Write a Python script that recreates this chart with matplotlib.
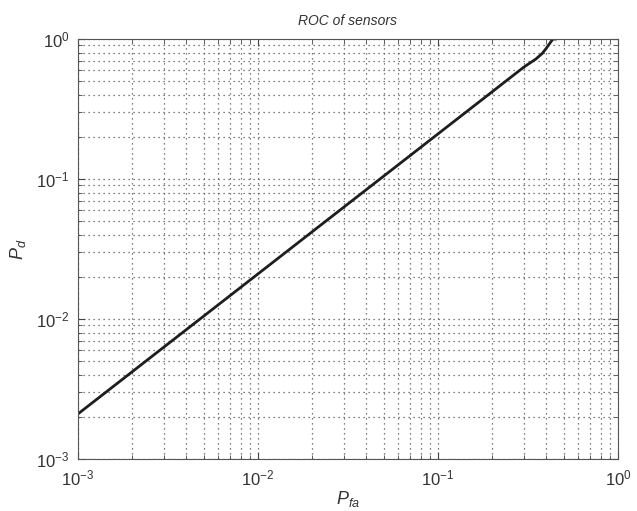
import matplotlib
matplotlib.use("Agg")
import matplotlib.pyplot as plt
import numpy as np

plt.rcParams['font.family'] = ['Liberation Sans', 'DejaVu Sans']
plt.rcParams['mathtext.fontset'] = 'custom'
plt.rcParams['mathtext.it'] = 'Liberation Sans:italic'
plt.rcParams['mathtext.rm'] = 'Liberation Sans'

# ROC curve
pfa = [1e-3, 1e-2, 0.1, 0.3, 0.35, 0.38, 0.40, 0.42, 0.435, 0.45]
pd = [2.1e-3, 2.1e-2, 0.21, 0.63, 0.72, 0.79, 0.86, 0.94, 1.0, 1.0]

fig = plt.figure(figsize=(6.37, 5.11), dpi=100)
ax = fig.add_axes([78/637, 1 - 459/511, 540/637, 420/511])

ax.loglog(pfa, pd, color='#1e1e1e', lw=2)
ax.set_xlim(1e-3, 1)
ax.set_ylim(1e-3, 1)

ax.grid(True, which='both', linestyle=(0, (1, 3)), color='#555555', lw=0.9)
ax.tick_params(which='both', direction='in', top=True, right=True,
               colors='#444444', labelcolor='#333333', labelsize=12)
ax.tick_params(which='major', length=5)
ax.tick_params(which='minor', length=3)
ax.tick_params(axis='x', which='major', pad=7)
ax.tick_params(axis='y', which='major', pad=6)
for s in ax.spines.values():
    s.set_color('#555555')

ax.set_title('ROC of sensors', fontstyle='italic', fontsize=10, color='#333333', pad=10)
ax.set_xlabel('$P_{fa}$', fontsize=13, color='#333333', labelpad=0)
ax.set_ylabel('$P_d$', fontsize=13, color='#333333', labelpad=6)

fig.savefig('out.png', dpi=100)
